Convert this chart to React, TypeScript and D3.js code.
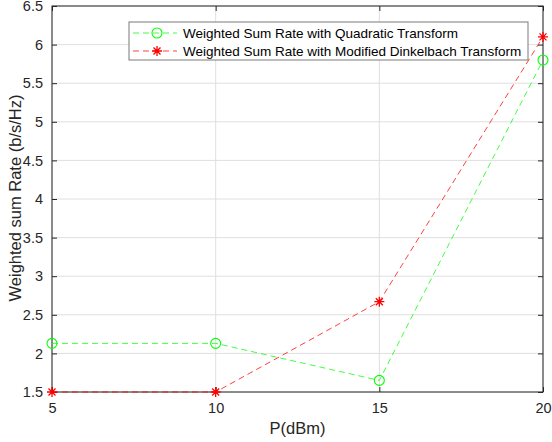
import { useEffect, useRef } from 'react';
import * as d3 from 'd3';

const powers = [5, 10, 15, 20];
const quadratic = [2.13, 2.13, 1.65, 5.8];
const dinkelbach = [1.5, 1.5, 2.67, 6.1];
const xTicks = [5, 10, 15, 20];
const yTicks = [1.5, 2, 2.5, 3, 3.5, 4, 4.5, 5, 5.5, 6, 6.5];
const seriesNames = ['Weighted Sum Rate with Quadratic Transform', 'Weighted Sum Rate with Modified Dinkelbach Transform'];

const W = 552, H = 442;
const FONT = 'Liberation Sans, Arial, Helvetica, sans-serif';

export default function App() {
  const ref = useRef<SVGSVGElement | null>(null);
  useEffect(() => {
    const svg = d3.select(ref.current!);
    svg.selectAll('*').remove();
    const m = { top: 6, right: 9, bottom: 50, left: 52 };
    const iw = W - m.left - m.right;
    const ih = H - m.top - m.bottom;
    svg.append('rect').attr('width', W).attr('height', H).attr('fill', 'white');
    const g = svg.append('g').attr('transform', `translate(${m.left},${m.top})`);

    const x = d3.scaleLinear().domain([5, 20]).range([0, iw]);
    const y = d3.scaleLinear().domain([1.5, 6.5]).range([ih, 0]);

    // grid
    g.selectAll('.gx').data(xTicks).enter().append('line')
      .attr('x1', (d) => x(d)).attr('x2', (d) => x(d)).attr('y1', 0).attr('y2', ih)
      .attr('stroke', '#dfdfdf').attr('stroke-width', 1);
    g.selectAll('.gy').data(yTicks).enter().append('line')
      .attr('x1', 0).attr('x2', iw).attr('y1', (d) => y(d)).attr('y2', (d) => y(d))
      .attr('stroke', '#dfdfdf').attr('stroke-width', 1);

    // axes with inward ticks
    const tl = 5;
    g.append('g').attr('transform', `translate(0,${ih})`).call(d3.axisBottom(x).tickValues(xTicks).tickSizeInner(-tl).tickSizeOuter(0).tickPadding(11))
      .call((s) => s.select('.domain').remove())
      .call((s) => s.selectAll('.tick line').attr('stroke', '#262626'))
      .selectAll('text').attr('font-size', 14.5).attr('fill', '#262626').attr('font-family', FONT);
    g.append('g').call(d3.axisTop(x).tickValues(xTicks).tickSizeInner(-tl).tickSizeOuter(0).tickFormat(() => ''))
      .call((s) => s.select('.domain').remove())
      .call((s) => s.selectAll('.tick line').attr('stroke', '#262626'));
    g.append('g').call(d3.axisLeft(y).tickValues(yTicks).tickSizeInner(-tl).tickSizeOuter(0).tickPadding(9).tickFormat((d) => String(d)))
      .call((s) => s.select('.domain').remove())
      .call((s) => s.selectAll('.tick line').attr('stroke', '#262626'))
      .selectAll('text').attr('font-size', 14.5).attr('fill', '#262626').attr('font-family', FONT);
    g.append('g').attr('transform', `translate(${iw},0)`).call(d3.axisRight(y).tickValues(yTicks).tickSizeInner(-tl).tickSizeOuter(0).tickFormat(() => ''))
      .call((s) => s.select('.domain').remove())
      .call((s) => s.selectAll('.tick line').attr('stroke', '#262626'));
    g.append('rect').attr('width', iw).attr('height', ih).attr('fill', 'none').attr('stroke', '#262626').attr('stroke-width', 1);

    // labels
    svg.append('text').attr('x', m.left + iw / 2).attr('y', 434).attr('text-anchor', 'middle')
      .attr('font-size', 16.5).attr('font-family', FONT).attr('fill', '#262626').text('P(dBm)');
    svg.append('text').attr('transform', `translate(21,${m.top + ih / 2 - 1}) rotate(-90)`).attr('text-anchor', 'middle')
      .attr('font-size', 16.5).attr('font-family', FONT).attr('fill', '#262626').text('Weighted sum Rate (b/s/Hz)');

    const line = d3.line<[number, number]>().x((d) => x(d[0])).y((d) => y(d[1]));
    const colors = ['#00ff00', '#ff0000'];
    const series = [quadratic, dinkelbach];

    const circle = (sel: d3.Selection<SVGGElement, unknown, null, undefined>, c: string) =>
      sel.append('circle').attr('r', 5).attr('fill', 'none').attr('stroke', c).attr('stroke-width', 1.1);
    const star = (sel: d3.Selection<SVGGElement, unknown, null, undefined>, c: string) => {
      const r = 5;
      sel.append('path').attr('d', `M${-r},0H${r}M0,${-r}V${r}M${-r * 0.7},${-r * 0.7}L${r * 0.7},${r * 0.7}M${-r * 0.7},${r * 0.7}L${r * 0.7},${-r * 0.7}`)
        .attr('stroke', c).attr('stroke-width', 1.3).attr('fill', 'none');
    };

    series.forEach((vals, i) => {
      const pts = powers.map((p, j) => [p, vals[j]] as [number, number]);
      g.append('path').datum(pts).attr('d', line).attr('fill', 'none').attr('stroke', colors[i])
        .attr('stroke-width', 1).attr('stroke-dasharray', '6,4').attr('stroke-opacity', 0.75);
      pts.forEach((p) => {
        const mg = g.append('g').attr('transform', `translate(${x(p[0])},${y(p[1])})`);
        if (i === 0) circle(mg, colors[i]); else star(mg, colors[i]);
      });
    });

    // legend
    const lx = 129, ly = 22, lw = 399, lh = 38;
    const lg = svg.append('g');
    lg.append('rect').attr('x', lx).attr('y', ly).attr('width', lw).attr('height', lh)
      .attr('fill', 'white').attr('stroke', '#7a7a7a').attr('stroke-width', 1);
    seriesNames.forEach((name, i) => {
      const yy = ly + 11 + i * 18;
      lg.append('line').attr('x1', lx + 4).attr('x2', lx + 48).attr('y1', yy).attr('y2', yy)
        .attr('stroke', colors[i]).attr('stroke-width', 1).attr('stroke-dasharray', '6,4').attr('stroke-opacity', 0.75);
      const mg = lg.append('g').attr('transform', `translate(${lx + 28},${yy})`);
      if (i === 0) circle(mg, colors[i]); else star(mg, colors[i]);
      lg.append('text').attr('x', lx + 54).attr('y', yy + 5).attr('font-size', 13.5).attr('font-family', FONT)
        .attr('fill', '#000').text(name);
    });
  }, []);
  return <svg ref={ref} width={W} height={H} style={{ position: 'absolute', left: 0, top: 0 }} />;
}
